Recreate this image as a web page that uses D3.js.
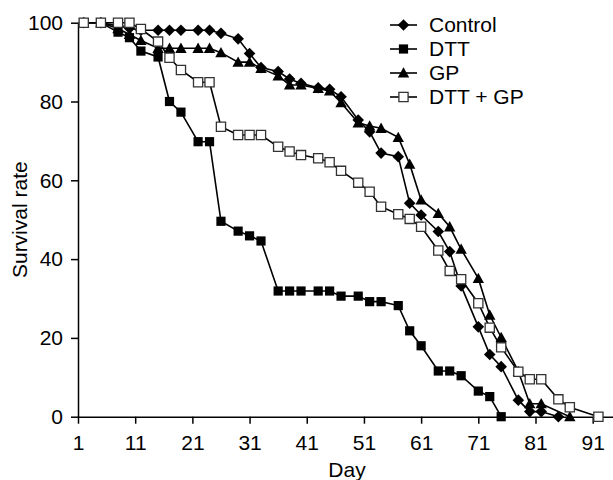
<!DOCTYPE html>
<html>
    <head>
        <meta charset="utf-8">
        <style>
            body { margin: 0; background: #fff; }
            text { font-family: "Liberation Sans", Arial, sans-serif; fill: #000; }
        </style>
    </head>
    <body>
        <svg width="613" height="480"></svg>
        <script src="https://d3js.org/d3.v7.min.js"></script>
        <script>

            var controlDays = [2,5,8,10,12,15,17,19,22,24,26,29,31,33,36,38,40,43,45,47,50,52,54,57,59,61,64,66,68,71,73,75,78,80,82,85];
            var controlVals = [100,100,99.2,98.6,98.1,98.1,98.1,98.1,98.1,98.1,97.3,95.9,92.2,88.6,87.6,85.7,84.6,83.5,83.1,81.2,75.3,72.3,66.9,66.0,54.2,51.2,47.0,41.9,33.2,22.8,15.8,12.7,4.2,1.3,1.3,0];

            var dttDays = [2,5,8,10,12,15,17,19,22,24,26,29,31,33,36,38,40,43,45,47,50,52,54,57,59,61,64,66,68,71,73,75];
            var dttVals = [100,100,97.6,96.2,92.8,91.3,80.0,77.3,69.8,69.8,49.6,47.1,45.9,44.6,31.9,31.9,31.9,31.9,31.9,30.6,30.6,29.2,29.2,28.2,21.8,18.0,11.6,11.6,10.4,6.5,5.1,0];

            var gpDays = [2,5,8,10,12,15,17,19,22,24,26,29,31,33,36,38,40,43,45,47,50,52,54,57,59,61,64,66,68,71,73,75,78,80,82,87];
            var gpVals = [100,100,98.5,97,95.5,93.5,93.5,93.5,93.5,93.5,92.4,90,90,88.4,86.5,84.2,84.2,83.3,82.7,79.7,74.6,73.8,73.2,70.9,64.1,55,51.6,48.2,42.5,35.1,25.8,20.1,11.5,3.3,3.3,0];

            var dttGpDays = [2,5,8,10,12,15,17,19,22,24,26,29,31,33,36,38,40,43,45,47,50,52,54,57,59,61,64,66,68,71,73,75,78,80,82,85,87,92];
            var dttGpVals = [100,100,100,100,98.4,95.2,91.1,88,84.9,84.9,73.6,71.5,71.5,71.5,68.5,67.3,66.4,65.6,64.6,62.4,59.4,57.1,53.3,51.4,50.2,48.2,42.2,37.0,34.9,28.8,22.6,17.6,11.4,9.5,9.5,4.4,2.4,0];

            var seriesNames = ["Control", "DTT", "GP", "DTT + GP"];
            var xTicks = [1,11,21,31,41,51,61,71,81,91];
            var yTicks = [0,20,40,60,80,100];

            function zip(days, vals){
                return days.map(function(d, i){ return {day: d, value: vals[i]}; });
            }

            var series = [
                {name: seriesNames[0], marker: "diamond", data: zip(controlDays, controlVals)},
                {name: seriesNames[1], marker: "square", data: zip(dttDays, dttVals)},
                {name: seriesNames[2], marker: "triangle", data: zip(gpDays, gpVals)},
                {name: seriesNames[3], marker: "open", data: zip(dttGpDays, dttGpVals)}
            ];

            function translator(x, y){
                return 'translate(' + x + ',' + y + ')';
            }

            // marker shapes around 0,0
            function markerPath(kind){
                if (kind === "diamond") return "M0,-5.8L5.8,0L0,5.8L-5.8,0Z";
                if (kind === "triangle") return "M0,-5.7L5.7,4.6L-5.7,4.6Z";
                return "M-4.6,-4.6H4.6V4.6H-4.6Z";
            }

            function drawMarkers(sel, kind){
                sel.append("path")
                    .attr("d", markerPath(kind))
                    .attr("fill", kind === "open" ? "#fff" : "#000")
                    .attr("stroke", kind === "open" ? "#333" : "none")
                    .attr("stroke-width", 1.3);
            }

            var svg = d3.select('svg');

            var x = d3.scaleLinear().domain([1, 94.5]).range([78, 612.7]);
            var y = d3.scaleLinear().domain([0, 100]).range([416.7, 22.7]);

            var xAxis = d3.axisBottom(x).tickValues(xTicks).tickSize(7).tickSizeOuter(0).tickPadding(11);
            var yAxis = d3.axisLeft(y).tickValues(yTicks).tickSize(7).tickSizeOuter(0).tickPadding(8);

            var gx = svg.append("g").attr("transform", translator(0, y(0))).call(xAxis);
            var gy = svg.append("g").attr("transform", translator(x(1), 0)).call(yAxis);

            [gx, gy].forEach(function(g){
                g.selectAll("path, line").attr("stroke", "#000").attr("stroke-width", 1.5);
                g.selectAll("text").style("font-size", "21px").attr("fill", "#000");
            });

            svg.append("text")
                .attr("transform", translator(27, 219.7) + " rotate(-90)")
                .attr("text-anchor", "middle")
                .style("font-size", "21px")
                .text("Survival rate");

            svg.append("text")
                .attr("x", 347)
                .attr("y", 476.5)
                .attr("text-anchor", "middle")
                .style("font-size", "21px")
                .text("Day");

            var line = d3.line()
                .x(function(d){ return x(d.day); })
                .y(function(d){ return y(d.value); });

            series.forEach(function(s){
                var g = svg.append("g");
                g.append("path")
                    .datum(s.data)
                    .attr("fill", "none")
                    .attr("stroke", "#000")
                    .attr("stroke-width", 1.6)
                    .attr("d", line);
                var pts = g.selectAll(".pt")
                    .data(s.data)
                    .enter().append("g")
                    .attr("class", "pt")
                    .attr("transform", function(d){ return translator(x(d.day), y(d.value)); });
                drawMarkers(pts, s.marker);
            });

            // legend
            var legend = svg.append("g").attr("transform", translator(390, 25));
            var rows = legend.selectAll("g")
                .data(series)
                .enter().append("g")
                .attr("transform", function(d, i){ return translator(0, i * 24); });
            rows.append("line")
                .attr("x1", 0).attr("x2", 27)
                .attr("stroke", "#000").attr("stroke-width", 1.6);
            rows.each(function(d){
                var m = d3.select(this).append("g").attr("transform", translator(13.5, 0));
                drawMarkers(m, d.marker);
            });
            rows.append("text")
                .attr("x", 39)
                .attr("dy", "0.35em")
                .style("font-size", "21px")
                .text(function(d){ return d.name; });

        </script>
    </body>
</html>
